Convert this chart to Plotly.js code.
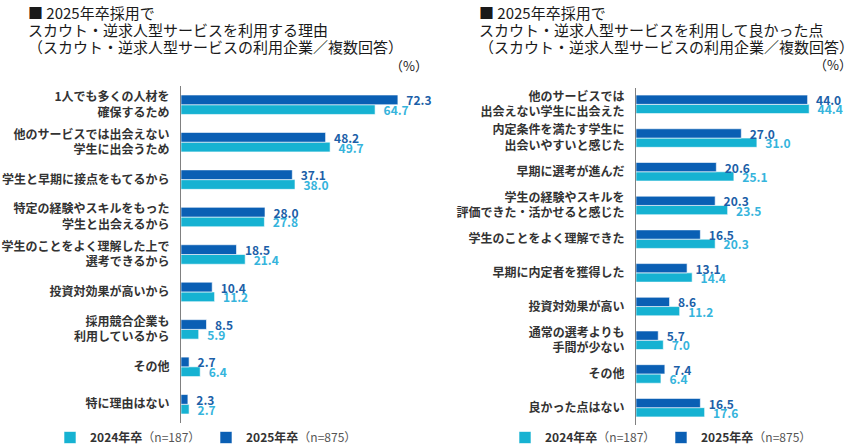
<!DOCTYPE html>
<html><head><meta charset="utf-8">
<script src="https://cdn.plot.ly/plotly-3.0.1.min.js"></script>
<style>html,body{margin:0;padding:0;background:#fff}#chart{width:854px;height:446px}</style>
</head><body><div id="chart"></div>
<script>
// Left chart: reasons for using scout / reverse-recruiting services
const reasonCats = [
  '1人でも多くの人材を<br>確保するため',
  '他のサービスでは出会えない<br>学生に出会うため',
  '学生と早期に接点をもてるから',
  '特定の経験やスキルをもった<br>学生と出会えるから',
  '学生のことをよく理解した上で<br>選考できるから',
  '投資対効果が高いから',
  '採用競合企業も<br>利用しているから',
  'その他',
  '特に理由はない'
];
const reason2025 = [72.3, 48.2, 37.1, 28.0, 18.5, 10.4, 8.5, 2.7, 2.3];
const reason2024 = [64.7, 49.7, 38.0, 27.8, 21.4, 11.2, 5.9, 6.4, 2.7];

// Right chart: good points of using scout / reverse-recruiting services
const goodCats = [
  '他のサービスでは<br>出会えない学生に出会えた',
  '内定条件を満たす学生に<br>出会いやすいと感じた',
  '早期に選考が進んだ',
  '学生の経験やスキルを<br>評価できた・活かせると感じた',
  '学生のことをよく理解できた',
  '早期に内定者を獲得した',
  '投資対効果が高い',
  '通常の選考よりも<br>手間が少ない',
  'その他',
  '良かった点はない'
];
const good2025 = [44.0, 27.0, 20.6, 20.3, 16.5, 13.1, 8.6, 5.7, 7.4, 16.5];
const good2024 = [44.4, 31.0, 25.1, 23.5, 20.3, 14.4, 11.2, 7.0, 6.4, 17.6];

const seriesNames = ['<b>2024年卒</b><span style="color:#555555">（n=187）</span>',
                     '<b>2025年卒</b><span style="color:#555555">（n=875）</span>'];

const C24 = '#16b2d2', C25 = '#0a5fb4';
const T24 = '#35b4dc', T25 = '#1c5fa8';
const FONT = '"Noto Sans CJK JP", "Noto Sans", sans-serif';

function barTrace(cats, vals, name, color, tcolor, axis, legend, offset, width) {
  return {
    type: 'bar', orientation: 'h', y: cats, x: vals, name: name,
    xaxis: axis[0], yaxis: axis[1], legend: legend,
    offset: offset, width: width,
    marker: {color: color, line: {color: '#ffffff', width: 0.6}},
    texttemplate: '\u00a0\u00a0%{x:.1f}', textposition: 'outside',
    constraintext: 'none', cliponaxis: false,
    textfont: {family: FONT, size: 12, color: tcolor, weight: 'bold'},
    hoverinfo: 'skip'
  };
}

const data = [
  barTrace(reasonCats, reason2024, seriesNames[0], C24, T24, ['x','y'], 'legend', 0, 0.26),
  barTrace(reasonCats, reason2025, seriesNames[1], C25, T25, ['x','y'], 'legend', -0.26, 0.26),
  barTrace(goodCats, good2024, seriesNames[0], C24, T24, ['x2','y2'], 'legend2', 0, 0.275),
  barTrace(goodCats, good2025, seriesNames[1], C25, T25, ['x2','y2'], 'legend2', -0.275, 0.275)
];

const H = 446, W = 854;
const yAxisBase = {
  type: 'category', autorange: 'reversed', showline: true, linecolor: '#808080', linewidth: 1,
  ticks: '', showgrid: false, zeroline: false, ticklabelstandoff: 8, automargin: false,
  tickfont: {family: FONT, size: 12, color: '#333333', weight: 'bold'}, fixedrange: true
};
const xAxisBase = {visible: false, showgrid: false, zeroline: false, fixedrange: true, automargin: false};

function titleAnn(text, xpx, ypx, size) {
  return {text: text, xref: 'paper', yref: 'paper', x: xpx / W, y: 1 - ypx / H,
    xanchor: 'left', yanchor: 'middle', showarrow: false,
    font: {family: FONT, size: size, color: '#1a1a1a'}};
}
function pctAnn(xpx, ypx) {
  return {text: '（%）', xref: 'paper', yref: 'paper', x: xpx / W, y: 1 - ypx / H,
    xanchor: 'right', yanchor: 'middle', showarrow: false,
    font: {family: FONT, size: 13, color: '#1a1a1a'}};
}

const legendBase = {
  orientation: 'h', xanchor: 'left', yanchor: 'middle', y: 1 - 437.5 / H,
  font: {family: FONT, size: 12, color: '#333333'}, bgcolor: 'rgba(0,0,0,0)',
  traceorder: 'normal', entrywidth: 111, entrywidthmode: 'pixels', itemclick: false, itemdoubleclick: false
};

const layout = {
  width: W, height: H, margin: {l: 0, r: 0, t: 0, b: 0, pad: 0, autoexpand: false},
  paper_bgcolor: '#ffffff', plot_bgcolor: '#ffffff',
  barmode: 'overlay',
  showlegend: true,
  xaxis: Object.assign({}, xAxisBase, {domain: [181 / W, 421 / W], range: [0, 80], anchor: 'y'}),
  yaxis: Object.assign({}, yAxisBase, {domain: [1 - 423 / H, 1 - 86 / H], anchor: 'x'}),
  xaxis2: Object.assign({}, xAxisBase, {domain: [636 / W, 831 / W], range: [0, 50], anchor: 'y2'}),
  yaxis2: Object.assign({}, yAxisBase, {domain: [1 - 424.5 / H, 1 - 87.5 / H], anchor: 'x2'}),
  legend: Object.assign({}, legendBase, {x: 50 / W}),
  legend2: Object.assign({}, legendBase, {x: 505 / W}),
  annotations: [
    titleAnn('■ 2025年卒採用で', 26, 13, 15),
    titleAnn('スカウト・逆求人型サービスを利用する理由', 26, 30, 15),
    titleAnn('（スカウト・逆求人型サービスの利用企業／複数回答）', 26, 47, 15),
    titleAnn('■ 2025年卒採用で', 477, 13, 15),
    titleAnn('スカウト・逆求人型サービスを利用して良かった点', 477, 30, 15),
    titleAnn('（スカウト・逆求人型サービスの利用企業／複数回答）', 477, 47, 15),
    pctAnn(430, 66),
    pctAnn(854, 65)
  ]
};

Plotly.newPlot('chart', data, layout, {displayModeBar: false, staticPlot: true});
</script>
</body></html>
